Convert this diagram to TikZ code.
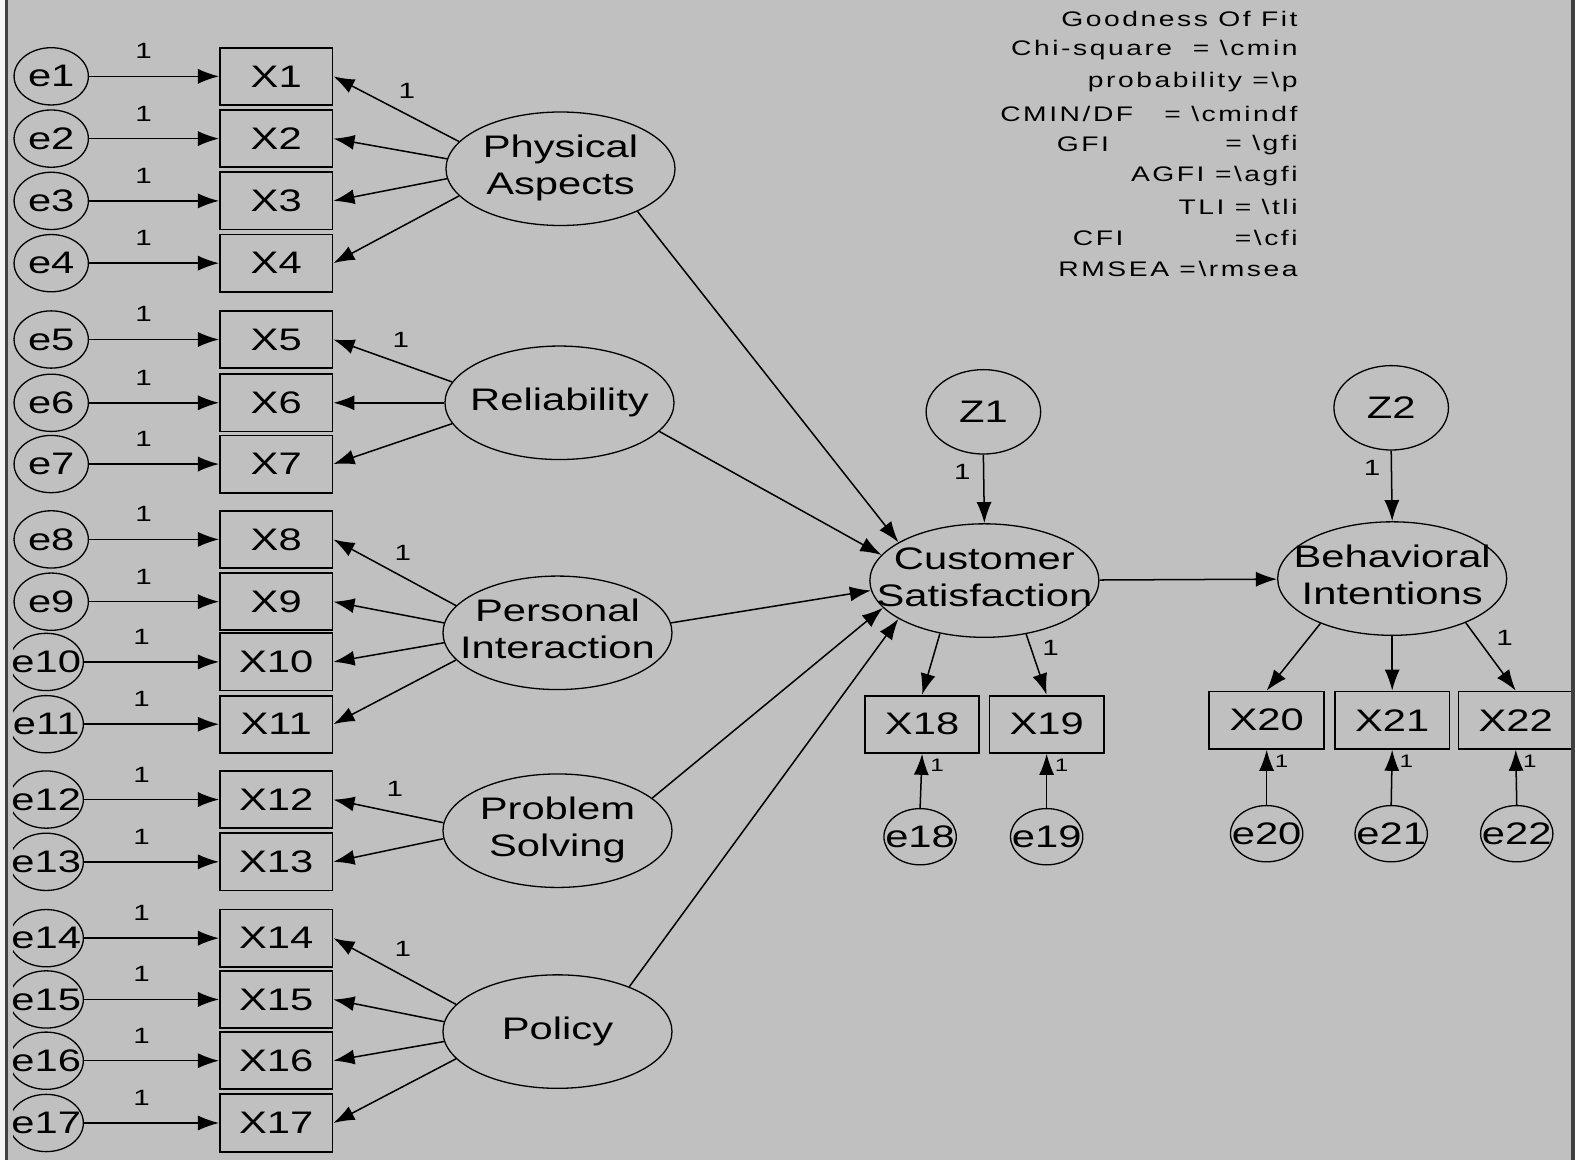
\documentclass[tikz,border=0pt]{standalone}
\usepackage{fontspec}
\setmainfont[FakeStretch=1.34]{Liberation Sans}
\newfontfamily\fitfont[FakeStretch=1.34,LetterSpace=12]{Liberation Sans}
\usetikzlibrary{shapes.geometric,arrows.meta}
\newcommand\ctext[1]{\makebox[0pt]{#1}}
\newcommand\twol[2]{\ctext{\begin{tabular}{@{}c@{}}#1\\#2\end{tabular}}}
\definecolor{bgc}{HTML}{C0C0C0}
\begin{document}
\begin{tikzpicture}[x=1pt,y=-1pt,
  big/.style={font=\fontsize{31}{37}\selectfont},
  box/.style={rectangle,draw,line width=1.8pt,minimum width=112pt,minimum height=57pt,inner sep=0pt,big},
  err/.style={ellipse,draw,line width=1.3pt,minimum width=74pt,minimum height=57pt,inner sep=0pt,big},
  lat/.style={ellipse,draw,line width=1.3pt,minimum width=228pt,minimum height=113pt,inner sep=0pt,big},
  dist/.style={ellipse,draw,line width=1.3pt,minimum width=114pt,minimum height=84pt,inner sep=0pt,big},
  arr/.style={-{Latex[length=21pt,width=15pt]},line width=1.5pt},
  one/.style={font=\fontsize{22}{26}\selectfont,inner sep=0pt},
  small/.style={font=\fontsize{18}{21}\selectfont,inner sep=0pt},
  fit/.style={font=\fitfont\fontsize{21}{25}\selectfont,inner sep=0pt}]
\useasboundingbox (0,0) rectangle (1568,1155);
\fill[bgc] (0,0) rectangle (1568,1155);
\fill[white!85!bgc] (0,0) rectangle (5,1155);
\fill[black!75] (5,0) rectangle (8,1155);
\fill[black!75] (1564,0) rectangle (1568,1155);
\begin{scope}
\clip (13,0) rectangle (1564,1155);
% measured indicators
\foreach \i/\y in {1/76,2/138,3/200,4/262,5/338,6/401,7/462,8/537,9/599}{
  \node[err] (e\i) at (51,\y) {\ctext{e\i}};
  \node[box] (X\i) at (275,\y) {X\i};
  \draw[arr] (e\i) -- (X\i);
  \node[one] (l\i) at (143,\y-25) {1};
}
\foreach \i/\y in {10/659,11/721,12/796,13/858,14/934,15/995,16/1056,17/1118}{
  \node[err] (e\i) at (46,\y) {\ctext{e\i}};
  \node[box] (X\i) at (275,\y) {X\i};
  \draw[arr] (e\i) -- (X\i);
  \node[one] (l\i) at (141,\y-25) {1};
}
% latent variables
\node[lat] (PA) at (558,168) {\twol{Physical}{Aspects}};
\node[lat] (RE) at (557,401) {\ctext{Reliability}};
\node[lat] (PI) at (555,630) {\twol{Personal}{Interaction}};
\node[lat] (PS) at (555,827) {\twol{Problem}{Solving}};
\node[lat] (PO) at (555,1027) {\ctext{Policy}};
\node[lat] (CS) at (980,578) {\twol{Customer}{Satisfaction}};
\node[lat] (BI) at (1386,576) {\twol{Behavioral}{Intentions}};
\node[dist] (Z1) at (979,410) {Z1};
\node[dist] (Z2) at (1385,406) {Z2};
% loadings
\draw[arr] (PA.165) -- (X1.east);
\draw[arr] (PA.175) -- (X2.east);
\draw[arr] (PA.185) -- (X3.east);
\draw[arr] (PA.195) -- (X4.east);
\draw[arr] (RE.169) -- (X5.east);
\draw[arr] (RE.180) -- (X6.east);
\draw[arr] (RE.191) -- (X7.east);
\draw[arr] (PI.165) -- (X8.east);
\draw[arr] (PI.175) -- (X9.east);
\draw[arr] (PI.185) -- (X10.east);
\draw[arr] (PI.195) -- (X11.east);
\draw[arr] (PS.176) -- (X12.east);
\draw[arr] (PS.184) -- (X13.east);
\draw[arr] (PO.165) -- (X14.east);
\draw[arr] (PO.175) -- (X15.east);
\draw[arr] (PO.185) -- (X16.east);
\draw[arr] (PO.195) -- (X17.east);
\node[one] (lPA) at (405,90) {1};
\node[one] (lRE) at (399,338) {1};
\node[one] (lPI) at (401,550) {1};
\node[one] (lPS) at (393,785) {1};
\node[one] (lPO) at (401,945) {1};
% structural paths
\draw[arr] (PA.331) -- (CS.156);
\draw[arr] (RE.344) -- (CS.166);
\draw[arr] (PI.5) -- (CS.185);
\draw[arr] (PS.19) -- (CS.195);
\draw[arr] (PO.32) -- (CS.204);
\draw[arr] (CS) -- (BI);
\draw[arr] (Z1.south) -- (CS.north);
\draw[arr] (Z2.south) -- (BI.north);
\node[one] (lZ1) at (958,470) {1};
\node[one] (lZ2) at (1366,466) {1};
% right indicators
\node[box,minimum width=114pt] (X18) at (918,721) {X18};
\node[box,minimum width=114pt] (X19) at (1042,721) {X19};
\node[box,minimum width=114pt] (X20) at (1261,717) {X20};
\node[box,minimum width=114pt] (X21) at (1386,717) {X21};
\node[box,minimum width=114pt] (X22) at (1509,717) {X22};
\node[err,minimum width=72pt,minimum height=56pt] (e18) at (916,833) {\ctext{e18}};
\node[err,minimum width=72pt,minimum height=56pt] (e19) at (1042,833) {\ctext{e19}};
\node[err,minimum width=72pt,minimum height=56pt] (e20) at (1261,830) {\ctext{e20}};
\node[err,minimum width=72pt,minimum height=56pt] (e21) at (1385,830) {\ctext{e21}};
\node[err,minimum width=72pt,minimum height=56pt] (e22) at (1510,830) {\ctext{e22}};
\draw[arr] (CS.230) -- (X18.north);
\draw[arr] (CS.308) -- (X19.north);
\draw[arr] (BI.212) -- (X20.north);
\draw[arr] (BI.south) -- (X21.north);
\draw[arr] (BI.329) -- (X22.north);
\node[one] (lX19) at (1046,645) {1};
\node[one] (lX22) at (1498,635) {1};
\foreach \i in {18,...,22}{
  \draw[arr] (e\i.north) -- (X\i.south);
}
\node[small] (l18) at (933,762) {1};
\node[small] (l19) at (1057,762) {1};
\node[small] (l20) at (1276,758) {1};
\node[small] (l21) at (1400,758) {1};
\node[small] (l22) at (1523,758) {1};
% fit statistics
\node[fit,anchor=east] (f1) at (1292,19) {Goodness Of Fit};
\node[fit,anchor=east] (f2) at (1292,50) {Chi-square\ \ = \textbackslash cmin};
\node[fit,anchor=east] (f3) at (1292,82) {probability =\textbackslash p};
\node[fit,anchor=east] (f4) at (1292,113) {CMIN/DF\ \ \ = \textbackslash cmindf};
\node[fit,anchor=west] (f5a) at (1052,144) {GFI};
\node[fit,anchor=east] (f5) at (1292,144) {= \textbackslash gfi};
\node[fit,anchor=east] (f6) at (1292,175) {AGFI =\textbackslash agfi};
\node[fit,anchor=east] (f7) at (1292,206) {TLI = \textbackslash tli};
\node[fit,anchor=west] (f8a) at (1068,237) {CFI};
\node[fit,anchor=east] (f8) at (1292,237) {=\textbackslash cfi};
\node[fit,anchor=east] (f9) at (1292,268) {RMSEA =\textbackslash rmsea};
\end{scope}
\end{tikzpicture}
\end{document}
